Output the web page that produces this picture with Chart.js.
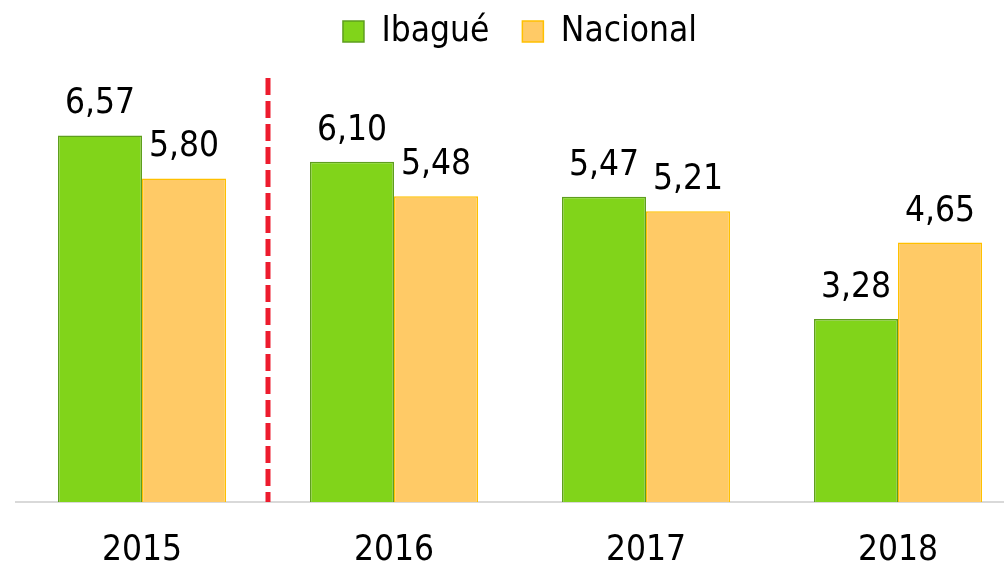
<!DOCTYPE html>
<html>
<head>
<meta charset="utf-8">
<script src="https://cdn.jsdelivr.net/npm/chart.js@4.4.1/dist/chart.umd.min.js"></script>
<style>
  html, body { margin: 0; padding: 0; background: #fff; overflow: hidden; }
  #wrap { width: 1024px; height: 566px; }
  canvas { display: block; }
</style>
</head>
<body>
<div id="wrap"><canvas id="chart" width="1024" height="566"></canvas></div>
<script>
const years = ["2015", "2016", "2017", "2018"];
const ibague = [6.57, 6.10, 5.47, 3.28];
const nacional = [5.80, 5.48, 5.21, 4.65];

const FONT = "'DejaVu Sans Condensed', 'Liberation Sans', sans-serif";

const fmt = (v) => v.toFixed(2).replace(".", ",");

// extra room under the legend
const legendGap = {
  id: "legendGap",
  beforeInit(chart) {
    const fit = chart.legend.fit;
    chart.legend.fit = function () {
      fit.call(this);
      this.height += 19;
    };
  },
};

// value labels above each bar
const valueLabels = {
  id: "valueLabels",
  afterDatasetsDraw(chart) {
    const ctx = chart.ctx;
    ctx.save();
    ctx.font = `35px ${FONT}`;
    ctx.fillStyle = "#000";
    ctx.textAlign = "center";
    ctx.textBaseline = "alphabetic";
    chart.data.datasets.forEach((ds, i) => {
      chart.getDatasetMeta(i).data.forEach((bar, j) => {
        ctx.fillText(fmt(ds.data[j]), bar.x, bar.y - 22);
      });
    });
    ctx.restore();
  },
};

// red dashed divider between 2015 and 2016
const divider = {
  id: "divider",
  afterDatasetsDraw(chart) {
    const x = chart.scales.x;
    const area = chart.chartArea;
    const px = (x.getPixelForValue(0) + x.getPixelForValue(1)) / 2;
    const ctx = chart.ctx;
    ctx.save();
    ctx.strokeStyle = "#ED1C2E";
    ctx.lineWidth = 5;
    ctx.setLineDash([17, 6]);
    ctx.beginPath();
    ctx.moveTo(px, area.top);
    ctx.lineTo(px, area.bottom);
    ctx.stroke();
    ctx.restore();
  },
};

new Chart(document.getElementById("chart"), {
  type: "bar",
  data: {
    labels: years,
    datasets: [
      {
        label: "Ibagué",
        data: ibague,
        backgroundColor: "#81D41A",
        borderColor: "#5E9E1E",
        borderWidth: 1.5,
      },
      {
        label: "Nacional",
        data: nacional,
        backgroundColor: "#FFCA66",
        borderColor: "#FFC000",
        borderWidth: 1.5,
      },
    ],
  },
  options: {
    responsive: false,
    animation: false,
    layout: { padding: { left: 16, right: 0, top: -19, bottom: -33 } },
    datasets: { bar: { categoryPercentage: 0.667, barPercentage: 1.0 } },
    plugins: {
      legend: {
        position: "top",
        labels: {
          color: "#000",
          font: { family: FONT, size: 35 },
          boxWidth: 21,
          boxHeight: 21,
          padding: 33,
        },
      },
      tooltip: { enabled: false },
    },
    scales: {
      x: {
        grid: { display: false, drawTicks: false },
        border: { color: "#D9D9D9", width: 2 },
        ticks: { color: "#000", font: { family: FONT, size: 35, lineHeight: 1 }, padding: 31 },
      },
      y: { display: false, min: 0, max: 7.6 },
    },
  },
  plugins: [legendGap, valueLabels, divider],
});
</script>
</body>
</html>
